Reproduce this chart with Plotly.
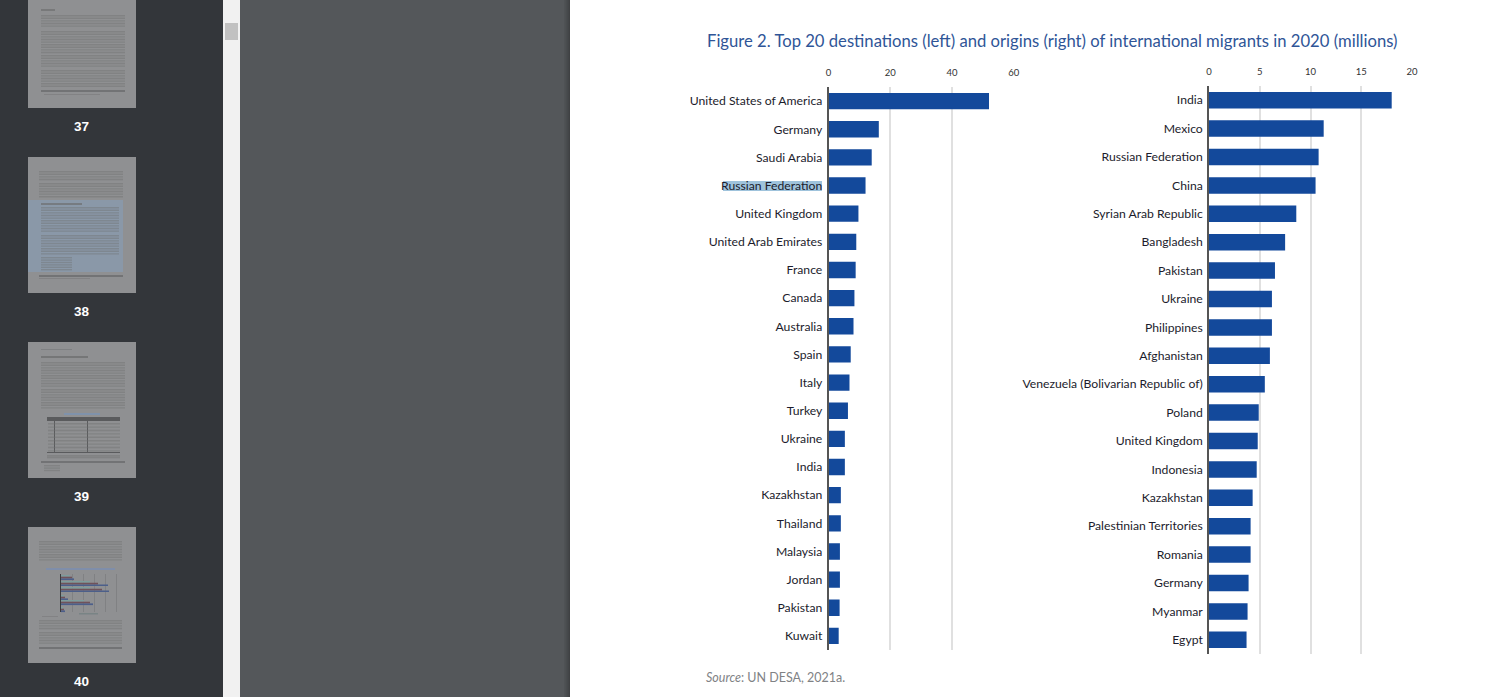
import plotly.graph_objects as go

W, H = 1502, 697

dest_names = ["United States of America", "Germany", "Saudi Arabia", "Russian Federation", "United Kingdom",
              "United Arab Emirates", "France", "Canada", "Australia", "Spain", "Italy", "Turkey", "Ukraine",
              "India", "Kazakhstan", "Thailand", "Malaysia", "Jordan", "Pakistan", "Kuwait"]
dest_values = [52, 16.3, 14, 12, 9.7, 9, 8.8, 8.4, 8.1, 7.2, 6.8, 6.3, 5.3, 5.3, 4, 4, 3.7, 3.7, 3.6, 3.3]
orig_names = ["India", "Mexico", "Russian Federation", "China", "Syrian Arab Republic", "Bangladesh", "Pakistan",
              "Ukraine", "Philippines", "Afghanistan", "Venezuela (Bolivarian Republic of)", "Poland",
              "United Kingdom", "Indonesia", "Kazakhstan", "Palestinian Territories", "Romania", "Germany",
              "Myanmar", "Egypt"]
orig_values = [18, 11.3, 10.8, 10.5, 8.6, 7.5, 6.5, 6.2, 6.2, 6, 5.5, 4.9, 4.8, 4.7, 4.3, 4.1, 4.1, 3.9, 3.8, 3.7]
dest_ticks = [0, 20, 40, 60]
orig_ticks = [0, 5, 10, 15, 20]
page_numbers = ["37", "38", "39", "40"]
title_text = "Figure 2. Top 20 destinations (left) and origins (right) of international migrants in 2020 (millions)"
source_text = "<i>Source</i>: UN DESA, 2021a."

FONT = "Lato"
BAR = "#13499b"
fig = go.Figure()
fig.add_bar(y=dest_names, x=dest_values, orientation="h", marker_color=BAR, marker_line_width=0, width=0.58,
            xaxis="x", yaxis="y")
fig.add_bar(y=orig_names, x=orig_values, orientation="h", marker_color=BAR, marker_line_width=0, width=0.58,
            xaxis="x2", yaxis="y2")

shapes = []
def rect(x0, y0, x1, y1, color, opacity=1.0):
    shapes.append(dict(type="rect", xref="paper", yref="paper", x0=x0 / W, x1=x1 / W, y0=1 - y0 / H, y1=1 - y1 / H,
                       fillcolor=color, opacity=opacity, line_width=0, layer="below"))

# viewer chrome
rect(0, 0, 223, H, "#33363a")
rect(223, 0, 240, H, "#f1f1f1")
rect(225, 23, 238, 40, "#c1c1c1")
rect(240, 0, 570, H, "#54575a")
rect(570, 0, W, H, "#ffffff")
for i, a in enumerate([0.05, 0.08, 0.12, 0.16, 0.2, 0.25]):
    rect(564 + i, 0, 565 + i, H, "#000000", a)

# thumbnails
THUMB = "#8f9092"
TXT = "#6e6f71"
def lines(x0, x1, y0, y1, step=2.6):
    y = y0
    while y < y1:
        rect(x0, y, x1, y + 1.4, TXT, 0.42)
        y += step
rect(28, 0, 136, 108, THUMB)
rect(41, 9, 55, 11, TXT, 0.7)
lines(41, 125, 15, 28); lines(41, 125, 31, 52); lines(41, 125, 55, 68); lines(41, 125, 70, 88)
rect(41, 90, 125, 92, "#727375")
rect(44, 94, 100, 95, TXT, 0.4)

rect(28, 157, 136, 293, THUMB)
rect(28, 200, 123, 272, "#8a98a8")
lines(39, 123, 171, 180); lines(39, 123, 183, 196)
rect(41, 203, 82, 205, TXT, 0.7)
lines(41, 119, 207, 232); lines(41, 119, 235, 254)
lines(41, 72, 257, 270, 2.4)
rect(39, 275, 123, 277, "#727375")
rect(39, 278, 90, 279, TXT, 0.4)

rect(28, 342, 136, 478, THUMB)
rect(41, 349, 72, 350, TXT, 0.5)
rect(41, 356, 88, 358, TXT, 0.8)
lines(41, 125, 362, 386); lines(41, 125, 389, 409)
rect(64, 413, 100, 415, "#7f92ab")
rect(47, 417, 120, 421, "#5a5b5d")
rect(54, 417, 55, 453, "#5a5b5d"); rect(87, 417, 88, 453, "#5a5b5d")
lines(48, 120, 423, 452, 3.4)
rect(47, 452, 120, 453, "#5a5b5d")
lines(47, 120, 455, 458, 1.8)
rect(41, 461, 125, 463, "#727375")
lines(44, 60, 465, 472, 2.4)

rect(28, 527, 136, 663, THUMB)
lines(39, 122, 541, 561)
rect(46, 568, 115, 570, "#7f8eaa")
for gx in [72, 83, 94, 105, 116]:
    rect(gx, 574, gx + 1, 612, "#808183")
# small bars of the page miniature
for y0, ends in [(575, (70, 72, 74)), (581, (90, 98, 108)), (587, (90, 102, 109)), (595, (64, 65, 68)),
                 (600, (84, 90, 93)), (607, (63, 64, 65))]:
    for k, (end, col) in enumerate(zip(ends, ["#7d9c9c", "#70525a", "#4c5f8a"])):
        rect(61, y0 + k * 1.7, end, y0 + k * 1.7 + 1.7, col)
rect(60, 574, 61, 612, "#3a3b3d")
rect(79, 613, 98, 614.5, "#6f7f80", 0.7)
rect(42, 616, 58, 617, TXT, 0.4)
lines(39, 122, 620, 628); lines(39, 122, 632, 645)
rect(39, 647, 122, 649, "#727375")

# selection highlight behind the label
rect(723, 181, 822, 191, "#9fc3dc")

annotations = [
    dict(text=title_text, x=1052.5 / W, y=1 - 40.5 / H, xref="paper", yref="paper", showarrow=False, xanchor="center",
         yanchor="middle", font=dict(family=FONT, size=16.65, color="#2f5597")),
    dict(text=source_text, x=704 / W, y=1 - 677 / H, xref="paper", yref="paper", showarrow=False, xanchor="left",
         yanchor="middle", font=dict(family=FONT, size=12.5, color="#808285")),
]
for label, cy in zip(page_numbers, [126, 311, 496, 681]):
    annotations.append(dict(text=f"<b>{label}</b>", x=81.5 / W, y=1 - cy / H, xref="paper", yref="paper", showarrow=False,
                            xanchor="center", yanchor="middle", font=dict(family="Liberation Sans", size=13.5, color="#ffffff")))

def xaxis(x0, x1, rng, ticks, anchor):
    return dict(domain=[x0 / W, x1 / W], range=rng, side="top", tickvals=ticks, anchor=anchor, showgrid=True,
                gridcolor="#e0e0e0", gridwidth=1.5, zeroline=False, showline=False, ticks="outside", ticklen=6,
                tickcolor="rgba(0,0,0,0)", tickfont=dict(family=FONT, size=9.5, color="#333333"), fixedrange=True)
def yaxis(y0, y1, names, anchor):
    return dict(domain=[1 - y1 / H, 1 - y0 / H], categoryorder="array", categoryarray=names, autorange="reversed",
                anchor=anchor, showgrid=False, zeroline=False, showline=True, linecolor="#555555", linewidth=1.5,
                ticks="outside", ticklen=2, tickcolor="rgba(0,0,0,0)",
                tickfont=dict(family=FONT, size=12.2, color="#1c1c2c"), tickmode="array", tickvals=names, fixedrange=True)

fig.update_layout(
    width=W, height=H, autosize=False, margin=dict(l=0, r=0, t=0, b=0, pad=0, autoexpand=False), showlegend=False,
    paper_bgcolor="#ffffff", plot_bgcolor="rgba(0,0,0,0)", bargap=0.42,
    xaxis=xaxis(828.5, 1013.7, [0, 60], dest_ticks, "y"),
    yaxis=yaxis(87, 650, dest_names, "x"),
    xaxis2=xaxis(1209, 1412, [0, 20], orig_ticks, "y2"),
    yaxis2=yaxis(86, 654, orig_names, "x2"),
    shapes=shapes, annotations=annotations,
)
fig.write_html("out.html", config=dict(displayModeBar=False),
               post_script="document.body.style.margin='0';document.documentElement.style.overflow='hidden';")
